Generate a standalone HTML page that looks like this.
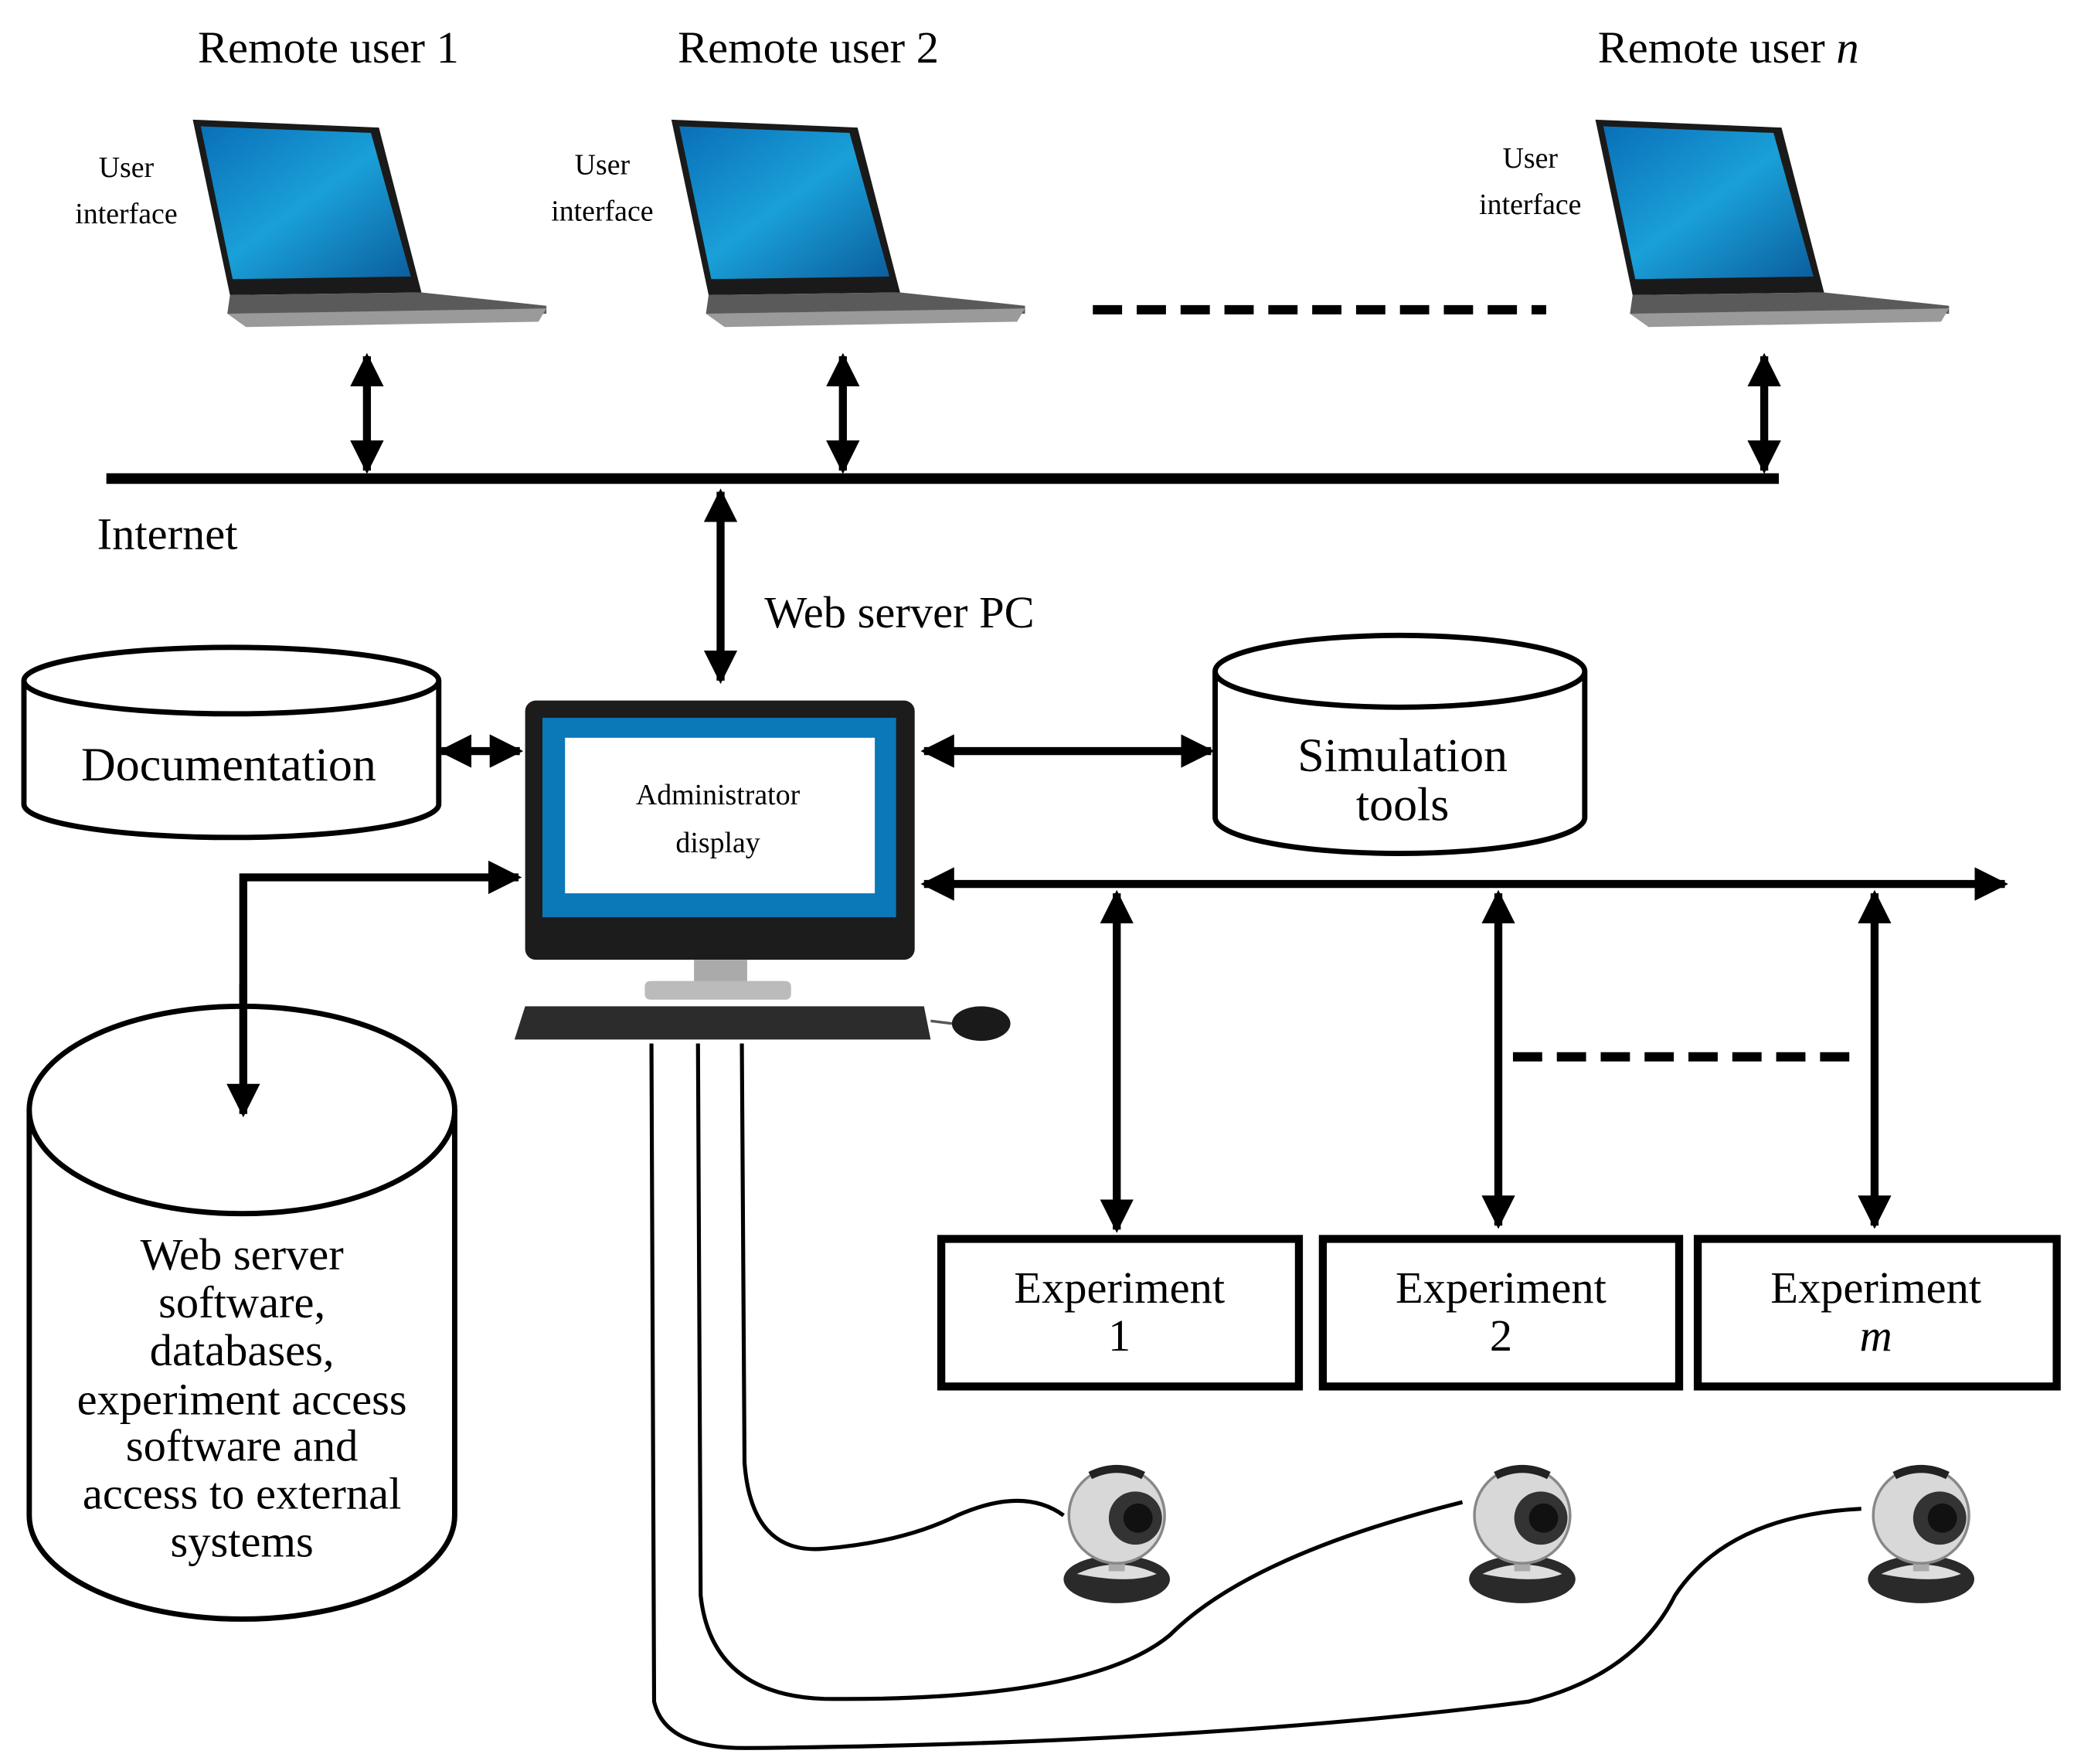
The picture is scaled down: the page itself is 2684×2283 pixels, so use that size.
<!DOCTYPE html>
<html><head><meta charset="utf-8"><style>
html,body{margin:0;padding:0;background:#fff;}
svg{display:block;}
text{font-family:"Liberation Serif",serif;fill:#000;}
</style></head><body>
<svg width="2684" height="2283" viewBox="0 0 1560 1327" preserveAspectRatio="none" xmlns="http://www.w3.org/2000/svg">
<defs>
<marker id="ah" viewBox="0 0 10 10" refX="9" refY="5" markerWidth="4.2" markerHeight="4.2" markerUnits="strokeWidth" orient="auto-start-reverse"><path d="M0,0 L10,5 L0,10 Z" fill="#000"/></marker>
<linearGradient id="scr" x1="0" y1="0" x2="1" y2="1"><stop offset="0" stop-color="#0a6fb8"/><stop offset="0.5" stop-color="#1aa0d8"/><stop offset="1" stop-color="#0b5e9e"/></linearGradient>
<g id="laptop">
<path d="M0,0 L140,6 L172,130 L28,132 Z" fill="#1a1a1a"/>
<path d="M6,5 L134,10 L164,118 L30,120 Z" fill="url(#scr)"/>
<path d="M28,132 L172,130 L266,140 L266,146 L40,152 L26,146 Z" fill="#5a5a5a"/>
<path d="M26,146 L266,142 L260,152 L40,156 Z" fill="#9a9a9a"/>
</g>
<g id="cam">
<ellipse cx="0" cy="48" rx="40" ry="18" fill="#2a2a2a"/>
<path d="M-30,44 Q0,30 30,44 Q10,52 -30,44 Z" fill="#ddd"/>
<rect x="-6" y="28" width="12" height="14" fill="#aaa"/>
<circle cx="0" cy="0" r="36" fill="#d8d8d8" stroke="#888" stroke-width="2"/>
<circle cx="14" cy="2" r="20" fill="#333"/>
<circle cx="16" cy="2" r="11" fill="#111"/>
<path d="M-20,-30 Q0,-40 20,-30" stroke="#222" stroke-width="6" fill="none"/>
</g>
</defs>

<!-- Top titles -->
<text x="247" y="47" font-size="34" text-anchor="middle">Remote user 1</text>
<text x="608" y="47" font-size="34" text-anchor="middle">Remote user 2</text>
<text x="1300" y="47" font-size="34" text-anchor="middle">Remote user <tspan font-style="italic">n</tspan></text>

<use href="#laptop" x="145" y="90"/>
<use href="#laptop" x="505" y="90"/>
<use href="#laptop" x="1200" y="90"/>

<g font-size="22" text-anchor="middle">
<text x="95" y="133">User</text><text x="95" y="168">interface</text>
<text x="453" y="131">User</text><text x="453" y="166">interface</text>
<text x="1151" y="126">User</text><text x="1151" y="161">interface</text>
</g>

<line x1="822" y1="233" x2="1163" y2="233" stroke="#000" stroke-width="7" stroke-dasharray="22,11"/>

<g stroke="#000" stroke-width="6" fill="none">
<line x1="276" y1="268" x2="276" y2="354" marker-start="url(#ah)" marker-end="url(#ah)"/>
<line x1="634" y1="268" x2="634" y2="354" marker-start="url(#ah)" marker-end="url(#ah)"/>
<line x1="1327" y1="268" x2="1327" y2="354" marker-start="url(#ah)" marker-end="url(#ah)"/>
<line x1="542" y1="370" x2="542" y2="512" marker-start="url(#ah)" marker-end="url(#ah)"/>
<line x1="332" y1="565" x2="391" y2="565" marker-start="url(#ah)" marker-end="url(#ah)"/>
<line x1="695" y1="565" x2="911" y2="565" marker-start="url(#ah)" marker-end="url(#ah)"/>
<line x1="695" y1="665" x2="1508" y2="665" marker-start="url(#ah)" marker-end="url(#ah)"/>
<line x1="840" y1="672" x2="840" y2="925" marker-start="url(#ah)" marker-end="url(#ah)"/>
<line x1="1127" y1="672" x2="1127" y2="922" marker-start="url(#ah)" marker-end="url(#ah)"/>
<line x1="1410" y1="672" x2="1410" y2="922" marker-start="url(#ah)" marker-end="url(#ah)"/>
<polyline points="390,660 183,660 183,838" marker-start="url(#ah)" marker-end="url(#ah)"/>
</g>
<line x1="80" y1="360" x2="1338" y2="360" stroke="#000" stroke-width="8"/>
<line x1="1138" y1="795" x2="1398" y2="795" stroke="#000" stroke-width="7" stroke-dasharray="22,11"/>

<text x="73" y="413" font-size="34">Internet</text>
<text x="575" y="472" font-size="34">Web server PC</text>

<!-- Documentation cylinder -->
<g stroke="#000" stroke-width="4" fill="#fff">
<path d="M18,512 L18,605 A156,25 0 0 0 330,605 L330,512"/>
<ellipse cx="174" cy="512" rx="156" ry="25"/>
</g>
<text x="172" y="587" font-size="36" text-anchor="middle">Documentation</text>

<!-- Simulation tools cylinder -->
<g stroke="#000" stroke-width="4" fill="#fff">
<path d="M914,505 L914,615 A139,27 0 0 0 1192,615 L1192,505"/>
<ellipse cx="1053" cy="505" rx="139" ry="27"/>
</g>
<text x="1055" y="580" font-size="36" text-anchor="middle">Simulation</text>
<text x="1055" y="617" font-size="36" text-anchor="middle">tools</text>

<!-- Web server cylinder -->
<g stroke="#000" stroke-width="4" fill="#fff">
<path d="M22,835 L22,1140 A160,78 0 0 0 342,1140 L342,835"/>
<ellipse cx="182" cy="835" rx="160" ry="78"/>
</g>
<line x1="183" y1="740" x2="183" y2="838" stroke="#000" stroke-width="6" marker-end="url(#ah)"/>
<g font-size="34" text-anchor="middle">
<text x="182" y="955">Web server</text>
<text x="182" y="991">software,</text>
<text x="182" y="1027">databases,</text>
<text x="182" y="1064">experiment access</text>
<text x="182" y="1099">software and</text>
<text x="182" y="1135">access to external</text>
<text x="182" y="1171">systems</text>
</g>

<!-- Monitor -->
<rect x="395" y="527" width="293" height="195" rx="8" fill="#1c1c1c"/>
<rect x="408" y="540" width="266" height="150" fill="#0b78b8"/>
<rect x="425" y="555" width="233" height="117" fill="#fff"/>
<text x="540" y="605" font-size="22" text-anchor="middle">Administrator</text>
<text x="540" y="641" font-size="22" text-anchor="middle">display</text>
<rect x="522" y="722" width="40" height="18" fill="#aaa"/>
<rect x="485" y="738" width="110" height="14" rx="4" fill="#bbb"/>
<path d="M395,757 L695,757 L700,782 L387,782 Z" fill="#2c2c2c"/>
<ellipse cx="738" cy="770" rx="22" ry="13" fill="#1a1a1a"/>
<line x1="700" y1="768" x2="716" y2="770" stroke="#555" stroke-width="2"/>

<!-- Experiments -->
<g stroke="#000" stroke-width="6" fill="#fff">
<rect x="708" y="932" width="269" height="111"/>
<rect x="995" y="932" width="268" height="111"/>
<rect x="1277" y="932" width="270" height="111"/>
</g>
<g font-size="34" text-anchor="middle">
<text x="842" y="980">Experiment</text><text x="842" y="1016">1</text>
<text x="1129" y="980">Experiment</text><text x="1129" y="1016">2</text>
<text x="1411" y="980">Experiment</text><text x="1411" y="1016" font-style="italic">m</text>
</g>

<!-- Cables -->
<g stroke="#000" stroke-width="3" fill="none">
<path d="M558,785 L560,1100 Q565,1170 620,1165 Q680,1160 720,1140 Q770,1118 800,1140"/>
<path d="M525,785 L527,1200 Q535,1275 620,1278 Q820,1280 880,1230 Q940,1170 1100,1130"/>
<path d="M490,785 L492,1280 Q500,1315 560,1315 Q900,1312 1150,1280 Q1230,1260 1260,1200 Q1300,1140 1400,1135"/>
</g>
<use href="#cam" x="840" y="1140"/>
<use href="#cam" x="1145" y="1140"/>
<use href="#cam" x="1445" y="1140"/>
</svg>
</body></html>
